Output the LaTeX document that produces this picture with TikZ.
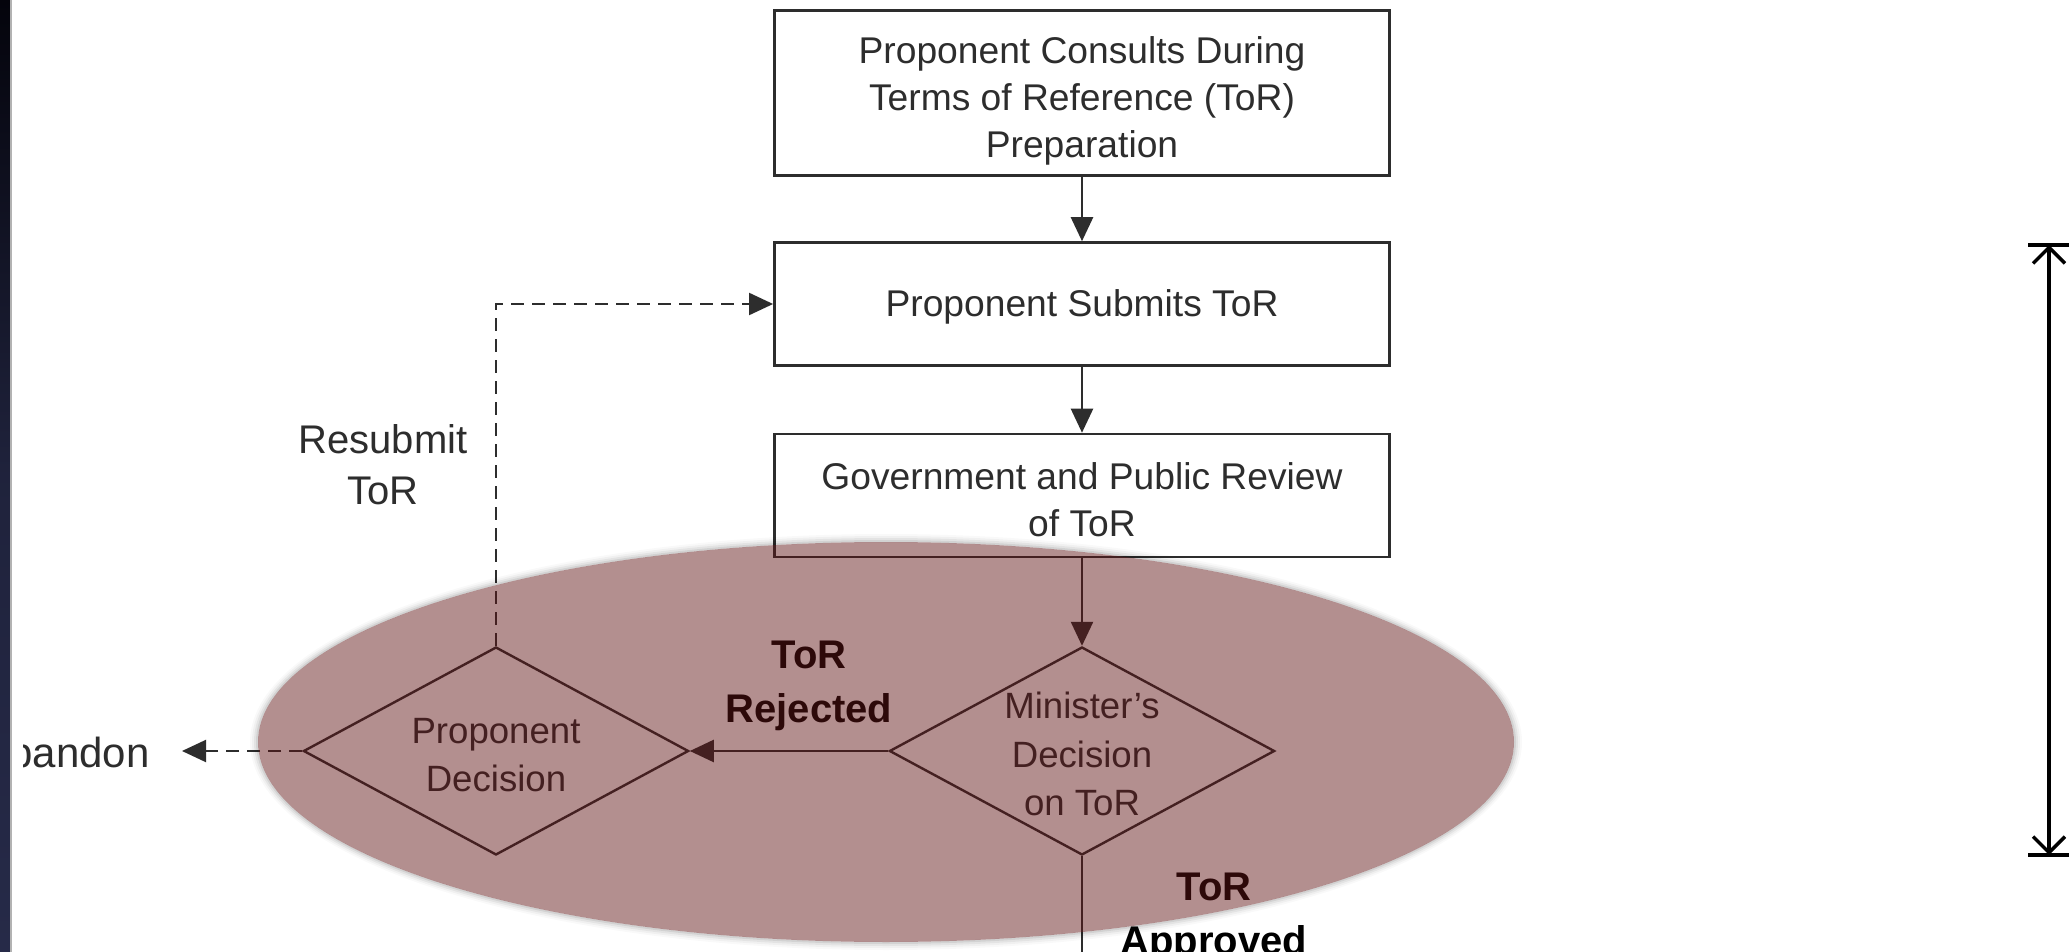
\documentclass[tikz,border=0pt]{standalone}
\usepackage{fontspec}
\setmainfont{Liberation Sans}
\usetikzlibrary{shapes.geometric,arrows.meta}
\definecolor{ink}{RGB}{45,45,45}
\definecolor{ovl}{RGB}{95,19,20}
\definecolor{barA}{RGB}{4,4,12}
\definecolor{barB}{RGB}{38,42,72}
\begin{document}
\begin{tikzpicture}[x=0.5pt,y=-0.5pt,
  box/.style={draw=ink, line width=1.4pt, minimum width=307.5pt, inner sep=0pt},
  btext/.style={align=center, inner sep=0pt, font=\fontsize{18.6}{23.6}\selectfont, text=ink},
  dia/.style={draw=ink, line width=1.2pt, diamond, minimum width=192.6pt, minimum height=104pt, inner sep=0pt},
  dtext/.style={align=center, font=\fontsize{18.3}{24.4}\selectfont, text=ink},
  lbl/.style={align=center, font=\fontsize{20}{25.7}\selectfont, text=ink},
  blbl/.style={align=center, font=\fontsize{20}{27}\selectfont\bfseries, text=black},
  flow/.style={draw=ink, line width=1.2pt, -{Triangle[length=12pt,width=11pt]}},
  dflow/.style={draw=ink, line width=1pt, dash pattern=on 6.5pt off 4pt, -{Triangle[length=12pt,width=11pt]}},
  dimline/.style={draw=black, line width=1.7pt}
]
\useasboundingbox (0,0) rectangle (2069,952);
\fill[white] (0,0) rectangle (2069,952);

% boxes
\node[box, minimum height=82.5pt] (b1) at (1082,93) {};
\node[btext] (b1t) at ([yshift=-4pt]b1.center) {Proponent Consults During\\Terms of Reference (ToR)\\Preparation};
\node[box, minimum height=61.4pt] (b2) at (1082,304) {};
\node[btext] (b2t) at ([yshift=-1.5pt]b2.center) {Proponent Submits ToR};
\node[box, minimum height=61.4pt] (b3) at (1082,495.5) {};
\node[btext] (b3t) at ([yshift=-2pt]b3.center) {Government and Public Review\\of ToR};

% diamonds
\node[dia] (md) at (1082,751) {};
\node[dtext] (mdt) at (1082,754) {Minister's\\Decision\\on ToR};
\node[dia] (pd) at (496,751) {};
\node[dtext] (pdt) at (496,755) {Proponent\\Decision};

% labels
\node[lbl] (resub) at (383,465) {Resubmit\\ToR};
\node[blbl] (rej) at (809,686) {ToR\\Rejected};
\node[blbl] (appr) at (1214,918) {ToR\\Approved};
\begin{scope}
  \clip (23,0) rectangle (2069,952);
  \node[lbl, font=\fontsize{21}{26}\selectfont, anchor=east, inner sep=0pt] (aband) at (150,752) {Abandon};
\end{scope}

% coordinates
\coordinate (abtip) at (182,751);
\coordinate (bend) at (496,304);
\coordinate (down) at (1082,965);

% connectors
\draw[flow] (b1.south) -- (b2.north);
\draw[flow] (b2.south) -- (b3.north);
\draw[flow] (b3.south) -- (md.north);
\draw[flow] (md.west) -- (pd.east);
\draw[draw=ink, line width=1.2pt] (md.south) -- (down);
\draw[dflow] (pd.north) -- (bend) -- (b2.west);
\draw[dflow] (pd.west) -- (abtip);

% overlay ellipse with soft shadowed rim
\foreach \d/\o in {4/0.025, 3/0.035, 2/0.05, 1/0.07}{
  \fill[black, opacity=\o, even odd rule]
    (886,742) ellipse [x radius={314pt+\d pt}, y radius={100pt+\d pt}]
    (886,742) ellipse [x radius=314pt, y radius=100pt];
}
\fill[ovl, opacity=0.475] (886,742) ellipse [x radius=314pt, y radius=100pt];

% right dimension arrow
\coordinate (dt) at (2049,245);
\coordinate (db) at (2049,855);
\coordinate (ctl) at (2028,245);
\coordinate (ctr) at (2080,245);
\coordinate (cbl) at (2028,855);
\coordinate (cbr) at (2080,855);
\draw[dimline] (ctl) -- (ctr);
\draw[dimline] (cbl) -- (cbr);
\draw[dimline, {Straight Barb[length=8pt,width=16pt,line width=1.7pt]}-{Straight Barb[length=8pt,width=16pt,line width=1.7pt]}] (dt) -- (db);

% left dark bar
\shade[top color=barA, bottom color=barB, middle color=barB!80!barA] (0,0) rectangle (10,952);
\draw[gray!60, line width=0.6pt] (11,0) -- (11,952);
\end{tikzpicture}
\end{document}
